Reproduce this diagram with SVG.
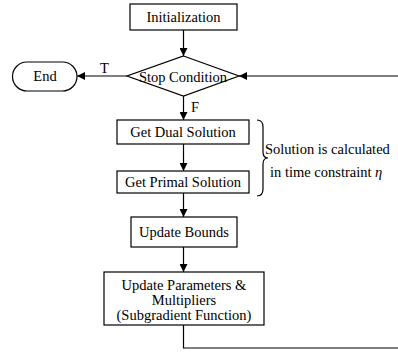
<svg xmlns="http://www.w3.org/2000/svg" width="398" height="352" viewBox="0 0 398 352">
<defs>
<marker id="ah" viewBox="0 0 10 10" refX="10" refY="5" markerWidth="8" markerHeight="8" markerUnits="userSpaceOnUse" orient="auto">
<path d="M0,0 L10,5 L0,10 Z" fill="#000"/>
</marker>
<style>
.box{fill:#fff;stroke:#000;stroke-width:1.2}
.t{font-family:"Liberation Serif","Times New Roman",serif;font-size:14.5px;fill:#000;text-anchor:middle}
.l{font-family:"Liberation Serif","Times New Roman",serif;font-size:14.5px;fill:#000}
.c{fill:none;stroke:#000;stroke-width:1.2}
.a{fill:none;stroke:#000;stroke-width:1.2;marker-end:url(#ah)}
</style>
</defs>
<rect width="398" height="352" fill="#fff"/>
<g id="connectors">
<line class="a" x1="183.5" y1="30" x2="183.5" y2="56"/>
<line class="a" x1="127" y1="76" x2="77" y2="76"/>
<line class="a" x1="400" y1="76" x2="239" y2="76"/>
<line class="a" x1="183.5" y1="96" x2="183.5" y2="120"/>
<line class="a" x1="183.5" y1="144" x2="183.5" y2="171"/>
<line class="a" x1="183.5" y1="193" x2="183.5" y2="217"/>
<line class="a" x1="183.5" y1="247" x2="183.5" y2="272"/>
<polyline class="c" points="183.5,325 183.5,348 400,348"/>
<text class="l" x="100" y="73">T</text>
<text class="l" x="191" y="112">F</text>
</g>
<g id="init">
<rect class="box" x="130" y="4" width="107" height="26"/>
<text class="t" x="183.5" y="22">Initialization</text>
</g>
<g id="stop">
<polygon class="box" points="183.5,56 239,76 183.5,96 127,76"/>
<text class="t" x="183" y="82">Stop Condition</text>
</g>
<g id="end">
<rect class="box" x="12.5" y="62" width="64.5" height="29" rx="14.5" ry="14.5"/>
<text class="t" x="45" y="81">End</text>
</g>
<g id="dual">
<rect class="box" x="117" y="120" width="132" height="24"/>
<text class="t" x="183" y="137">Get Dual Solution</text>
</g>
<g id="primal">
<rect class="box" x="117" y="171" width="132" height="22"/>
<text class="t" x="183" y="187">Get Primal Solution</text>
</g>
<g id="bounds">
<rect class="box" x="131" y="217" width="106" height="30"/>
<text class="t" x="184" y="237">Update Bounds</text>
</g>
<g id="params">
<rect class="box" x="104" y="272" width="160" height="53"/>
<text class="t" x="184" y="290">Update Parameters &amp;</text>
<text class="t" x="184" y="305">Multipliers</text>
<text class="t" x="184" y="320">(Subgradient Function)</text>
</g>
<g id="note">
<path class="c" d="M257,120 Q263,120 263,127 L263,152 Q263,158 268,158 Q263,158 263,164 L263,189 Q263,196 257,196"/>
<text class="l" x="265" y="154">Solution is calculated</text>
<text class="l" x="270" y="177">in time constraint <tspan font-style="italic">η</tspan></text>
</g>
</svg>
